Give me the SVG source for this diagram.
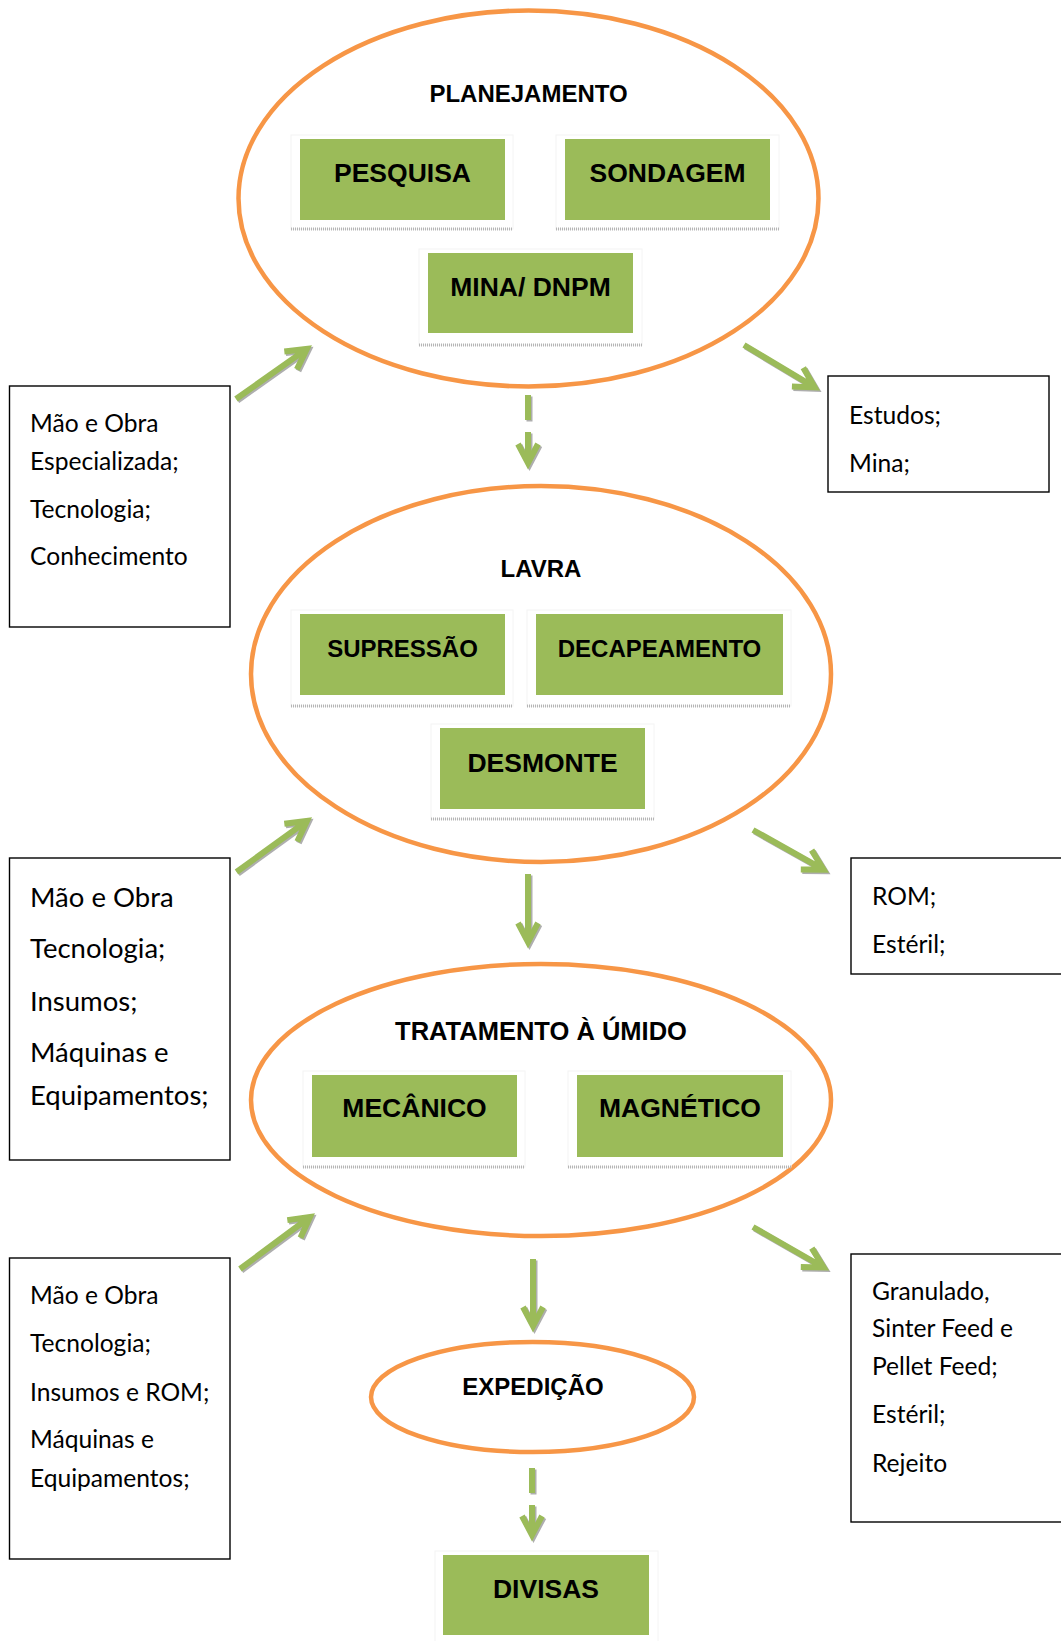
<svg xmlns="http://www.w3.org/2000/svg" xmlns:xlink="http://www.w3.org/1999/xlink" width="1061" height="1641" viewBox="0 0 1061 1641">
  <style>
    .stage { fill: #ffffff; stroke: #F79646; stroke-width: 4.5; }
    .stage-title { font-family: "Liberation Sans", Arial, sans-serif; font-weight: bold; font-size: 24px; fill: #000; text-anchor: middle; }
    .task { fill: #9BBB59; }
    .task-frame { fill: #ffffff; stroke: #f4f4f4; stroke-width: 1; }
    .task-base { stroke: #b5b5b5; stroke-width: 3; stroke-dasharray: 1 1; }
    .task-label { font-family: "Liberation Sans", Arial, sans-serif; font-weight: bold; font-size: 26.5px; fill: #000; text-anchor: middle; }
    .task-label.small { font-size: 24px; }
    .note { fill: #ffffff; stroke: #000; stroke-width: 1.4; }
    .note-text { font-family: Lato, "Open Sans", sans-serif; font-size: 24.6px; fill: #000; }
    .note-text.big { font-size: 27.5px; }
    .arrow { fill: none; stroke: #9BBB59; stroke-width: 6; stroke-linejoin: miter; stroke-miterlimit: 4; }
    .arrow-shadow { fill: none; stroke: #a0a0a0; stroke-width: 6; stroke-linejoin: miter; stroke-miterlimit: 4; opacity: 0.85; }
  </style>

  <defs>
    <!-- arrow geometries, drawn once as shadow and once in green -->
    <path id="a-down-1" d="M528 395 L528 420 M528 432 L528 463 M518 444 L528 463 L538 444"/>
    <path id="a-down-2" d="M528 874 L528 942 M518 923 L528 942 L538 923"/>
    <path id="a-down-3" d="M533 1259 L533 1326 M523 1307 L533 1326 L543 1307"/>
    <path id="a-down-4" d="M532 1468 L532 1493 M532 1505 L532 1535 M522 1516 L532 1535 L542 1516"/>
    <path id="a-in-1" d="M236 399 L306.9 348.9 M296.9 369.4 L306.9 348.9 L284.3 351.4"/>
    <path id="a-in-2" d="M236.5 872 L307 820.9 M297.3 841.5 L307 820.9 L284.3 823.7"/>
    <path id="a-in-3" d="M240 1269 L310 1217 M300.5 1237.7 L310 1217 L287.3 1220.1"/>
    <path id="a-out-1" d="M744 345 L814.7 387.4 M791.9 386.5 L814.7 387.4 L803.3 367.7"/>
    <path id="a-out-2" d="M753 830 L823.6 869.6 M800.8 869.4 L823.6 869.6 L811.6 850.2"/>
    <path id="a-out-3" d="M753 1227 L823.7 1267.5 M800.8 1267.1 L823.7 1267.5 L811.8 1248.1"/>
  </defs>

  <rect x="0" y="0" width="1061" height="1641" fill="#ffffff"/>

  <!-- Stage 1: PLANEJAMENTO -->
  <g id="planejamento">
    <ellipse class="stage" cx="528.5" cy="198.5" rx="290" ry="188"/>
    <text class="stage-title" x="528.5" y="102">PLANEJAMENTO</text>
  </g>
  <g id="pesquisa">
    <rect class="task-frame" x="291" y="135" width="222" height="94"/>
    <line class="task-base" x1="291" y1="229" x2="513" y2="229"/>
    <rect class="task" x="300" y="139" width="205" height="81"/>
    <text class="task-label" x="402.5" y="182">PESQUISA</text>
  </g>
  <g id="sondagem">
    <rect class="task-frame" x="556" y="135" width="223" height="94"/>
    <line class="task-base" x1="556" y1="229" x2="779" y2="229"/>
    <rect class="task" x="565" y="139" width="205" height="81"/>
    <text class="task-label" x="667.5" y="182">SONDAGEM</text>
  </g>
  <g id="mina-dnpm">
    <rect class="task-frame" x="419" y="249" width="223" height="96"/>
    <line class="task-base" x1="419" y1="345" x2="642" y2="345"/>
    <rect class="task" x="428" y="253" width="205" height="80"/>
    <text class="task-label" x="530.5" y="296">MINA/ DNPM</text>
  </g>

  <!-- Stage 2: LAVRA -->
  <g id="lavra">
    <ellipse class="stage" cx="541" cy="674" rx="290" ry="188"/>
    <text class="stage-title" x="541" y="577">LAVRA</text>
  </g>
  <g id="supressao">
    <rect class="task-frame" x="291" y="610" width="222" height="96"/>
    <line class="task-base" x1="291" y1="706" x2="513" y2="706"/>
    <rect class="task" x="300" y="614" width="205" height="81"/>
    <text class="task-label small" x="402.5" y="657">SUPRESSÃO</text>
  </g>
  <g id="decapeamento">
    <rect class="task-frame" x="527" y="610" width="264" height="96"/>
    <line class="task-base" x1="527" y1="706" x2="791" y2="706"/>
    <rect class="task" x="536" y="614" width="247" height="81"/>
    <text class="task-label small" x="659.5" y="657">DECAPEAMENTO</text>
  </g>
  <g id="desmonte">
    <rect class="task-frame" x="431" y="724" width="223" height="95"/>
    <line class="task-base" x1="431" y1="819" x2="654" y2="819"/>
    <rect class="task" x="440" y="728" width="205" height="81"/>
    <text class="task-label" x="542.5" y="772">DESMONTE</text>
  </g>

  <!-- Stage 3: TRATAMENTO À ÚMIDO -->
  <g id="tratamento">
    <ellipse class="stage" cx="541" cy="1100" rx="290" ry="136"/>
    <text class="stage-title" x="541" y="1040" style="font-size:25.5px">TRATAMENTO À ÚMIDO</text>
  </g>
  <g id="mecanico">
    <rect class="task-frame" x="303" y="1071" width="222" height="96"/>
    <line class="task-base" x1="303" y1="1167" x2="525" y2="1167"/>
    <rect class="task" x="312" y="1075" width="205" height="82"/>
    <text class="task-label" x="414.5" y="1117">MECÂNICO</text>
  </g>
  <g id="magnetico">
    <rect class="task-frame" x="568" y="1071" width="223" height="96"/>
    <line class="task-base" x1="568" y1="1167" x2="791" y2="1167"/>
    <rect class="task" x="577" y="1075" width="206" height="82"/>
    <text class="task-label" x="680" y="1117">MAGNÉTICO</text>
  </g>

  <!-- Stage 4: EXPEDIÇÃO -->
  <g id="expedicao">
    <ellipse class="stage" cx="532.5" cy="1397" rx="161.5" ry="55"/>
    <text class="stage-title" x="533" y="1395">EXPEDIÇÃO</text>
  </g>
  <g id="divisas">
    <rect class="task-frame" x="435" y="1551" width="223" height="96"/>
    <rect class="task" x="443" y="1555" width="206" height="80"/>
    <text class="task-label" x="546" y="1598">DIVISAS</text>
  </g>

  <!-- Inputs (left) -->
  <g id="entrada-planejamento">
    <rect class="note" x="9.5" y="386" width="220.5" height="241"/>
    <text class="note-text" x="30" y="432">Mão e Obra</text>
    <text class="note-text" x="30" y="470">Especializada;</text>
    <text class="note-text" x="30" y="518">Tecnologia;</text>
    <text class="note-text" x="30" y="565">Conhecimento</text>
  </g>
  <g id="entrada-lavra">
    <rect class="note" x="9.5" y="858" width="220.5" height="302"/>
    <text class="note-text big" x="30" y="907">Mão e Obra</text>
    <text class="note-text big" x="30" y="958">Tecnologia;</text>
    <text class="note-text big" x="30" y="1011">Insumos;</text>
    <text class="note-text big" x="30" y="1062">Máquinas e</text>
    <text class="note-text big" x="30" y="1105">Equipamentos;</text>
  </g>
  <g id="entrada-tratamento">
    <rect class="note" x="9.5" y="1258" width="220.5" height="301"/>
    <text class="note-text" x="30" y="1304">Mão e Obra</text>
    <text class="note-text" x="30" y="1352">Tecnologia;</text>
    <text class="note-text" x="30" y="1401">Insumos e ROM;</text>
    <text class="note-text" x="30" y="1448">Máquinas e</text>
    <text class="note-text" x="30" y="1487">Equipamentos;</text>
  </g>

  <!-- Outputs (right) -->
  <g id="saida-planejamento">
    <rect class="note" x="828" y="376" width="221" height="116"/>
    <text class="note-text" x="849" y="424">Estudos;</text>
    <text class="note-text" x="849" y="472">Mina;</text>
  </g>
  <g id="saida-lavra">
    <rect class="note" x="851" y="858" width="220" height="116"/>
    <text class="note-text" x="872" y="905">ROM;</text>
    <text class="note-text" x="872" y="953">Estéril;</text>
  </g>
  <g id="saida-tratamento">
    <rect class="note" x="851" y="1254" width="220" height="268"/>
    <text class="note-text" x="872" y="1300">Granulado,</text>
    <text class="note-text" x="872" y="1337">Sinter Feed e</text>
    <text class="note-text" x="872" y="1375">Pellet Feed;</text>
    <text class="note-text" x="872" y="1423">Estéril;</text>
    <text class="note-text" x="872" y="1472">Rejeito</text>
  </g>

  <!-- Connectors -->
  <g id="connectors">
    <g class="arrow-shadow" transform="translate(1.5,1.5)">
      <use xlink:href="#a-down-1"/>
      <use xlink:href="#a-down-2"/>
      <use xlink:href="#a-down-3"/>
      <use xlink:href="#a-down-4"/>
      <use xlink:href="#a-in-1"/>
      <use xlink:href="#a-in-2"/>
      <use xlink:href="#a-in-3"/>
      <use xlink:href="#a-out-1"/>
      <use xlink:href="#a-out-2"/>
      <use xlink:href="#a-out-3"/>
    </g>
    <g class="arrow">
      <use xlink:href="#a-down-1"/>
      <use xlink:href="#a-down-2"/>
      <use xlink:href="#a-down-3"/>
      <use xlink:href="#a-down-4"/>
      <use xlink:href="#a-in-1"/>
      <use xlink:href="#a-in-2"/>
      <use xlink:href="#a-in-3"/>
      <use xlink:href="#a-out-1"/>
      <use xlink:href="#a-out-2"/>
      <use xlink:href="#a-out-3"/>
    </g>
  </g>
</svg>
